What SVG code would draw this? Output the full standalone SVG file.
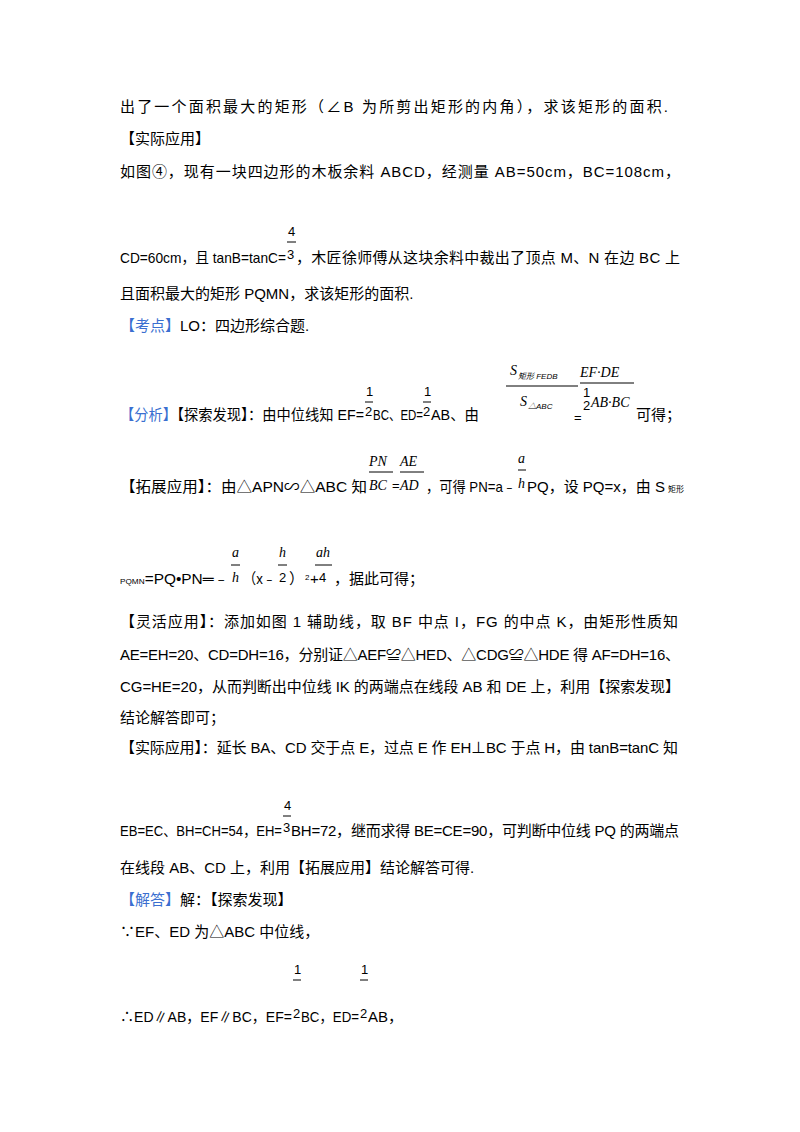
<svg xmlns="http://www.w3.org/2000/svg" width="800" height="1132" viewBox="0 0 800 1132">
<style>
text{font-family:"Liberation Sans","Noto Sans CJK SC",sans-serif;font-size:15px;fill:#000}
.b{fill:#3a6fd0}
.s{font-size:13px}
.t{font-size:8px}
.i{font-family:"Liberation Serif","Noto Sans CJK SC",serif;font-style:italic;font-size:14px}
line{stroke:#000;stroke-width:1}
</style>
<rect width="800" height="1132" fill="#fff"/>
<text x="120" y="112" textLength="548" lengthAdjust="spacing">出了一个面积最大的矩形（∠B 为所剪出矩形的内角），求该矩形的面积.</text>
<text x="120" y="144">【实际应用】</text>
<text x="120" y="177" textLength="560" lengthAdjust="spacing">如图④，现有一块四边形的木板余料 ABCD，经测量 AB=50cm，BC=108cm，</text>
<text x="288" y="236" class="s">4</text><line x1="287" y1="242" x2="296" y2="242"/>
<text x="120" y="263" textLength="166" lengthAdjust="spacingAndGlyphs">CD=60cm，且 tanB=tanC=</text><text x="287" y="259" class="s">3</text>
<text x="296" y="263" textLength="384" lengthAdjust="spacing">，木匠徐师傅从这块余料中裁出了顶点 M、N 在边 BC 上</text>
<text x="120" y="299">且面积最大的矩形 PQMN，求该矩形的面积.</text>
<text x="120" y="331"><tspan class="b">【考点】</tspan>LO：四边形综合题.</text>
<text x="120" y="420" textLength="244" lengthAdjust="spacingAndGlyphs"><tspan class="b">【分析】</tspan>【探索发现】：由中位线知 EF=</text>
<text x="366" y="396" class="s">1</text><line x1="365" y1="402" x2="373" y2="402"/>
<text x="365" y="416" class="s">2</text><text x="373" y="420" textLength="50" lengthAdjust="spacingAndGlyphs">BC、ED=</text>
<text x="424" y="396" class="s">1</text><line x1="423" y1="402" x2="431" y2="402"/>
<text x="423" y="416" class="s">2</text><text x="431" y="420" textLength="48" lengthAdjust="spacingAndGlyphs">AB、由</text>
<text x="510" y="375" class="i">S</text><text x="518" y="379" class="t" font-style="italic">矩形 FEDB</text>
<line x1="506" y1="386" x2="578" y2="386"/>
<text x="520" y="406" class="i">S</text><text x="528" y="409" class="t" font-style="italic">△ABC</text>
<text x="580" y="377" class="i" font-size="12">EF·DE</text>
<line x1="580" y1="383" x2="634" y2="383"/>
<text x="583" y="397" class="s">1</text><text x="583" y="410" class="s">2</text>
<text x="591" y="407" class="i" font-size="12">AB·BC</text>
<text x="574" y="422" class="s">=</text>
<text x="636" y="420">可得；</text>
<text x="120" y="492" textLength="247" lengthAdjust="spacingAndGlyphs">【拓展应用】：由△APN∽△ABC 知</text>
<text x="369" y="466" class="i">PN</text><line x1="369" y1="472" x2="393" y2="472"/>
<text x="369" y="490" class="i">BC</text><text x="392" y="490" class="s">=</text>
<text x="400" y="466" class="i">AE</text><line x1="400" y1="472" x2="424" y2="472"/>
<text x="400" y="490" class="i">AD</text>
<text x="426" y="492" textLength="90" lengthAdjust="spacingAndGlyphs">，可得 PN=a﹣</text>
<text x="518" y="463" class="i">a</text><line x1="518" y1="470" x2="526" y2="470"/>
<text x="518" y="488" class="i">h</text>
<text x="527" y="492" textLength="138" lengthAdjust="spacingAndGlyphs">PQ，设 PQ=x，由 S</text><text x="668" y="492" class="t">矩形</text>
<text x="120" y="584" textLength="109" lengthAdjust="spacingAndGlyphs"><tspan class="t">PQMN</tspan>=PQ•PN═﹣</text>
<text x="232" y="557" class="i">a</text><line x1="231" y1="565" x2="240" y2="565"/>
<text x="232" y="582" class="i">h</text>
<text x="243" y="584" textLength="33" lengthAdjust="spacingAndGlyphs">（x﹣</text>
<text x="279" y="557" class="i">h</text><line x1="278" y1="565" x2="287" y2="565"/>
<text x="279" y="582" class="s">2</text>
<text x="289" y="584">）</text><text x="305" y="580" class="t">2</text><text x="310" y="584">+</text>
<text x="316" y="557" class="i">ah</text><line x1="315" y1="565" x2="332" y2="565"/>
<text x="319" y="582" class="s">4</text>
<text x="334" y="584">，据此可得；</text>
<text x="120" y="627" textLength="558" lengthAdjust="spacing">【灵活应用】：添加如图 1 辅助线，取 BF 中点 I，FG 的中点 K，由矩形性质知</text>
<text x="120" y="660" textLength="560" lengthAdjust="spacing">AE=EH=20、CD=DH=16，分别证△AEF≌△HED、△CDG≌△HDE 得 AF=DH=16、</text>
<text x="120" y="692" textLength="560" lengthAdjust="spacing">CG=HE=20，从而判断出中位线 IK 的两端点在线段 AB 和 DE 上，利用【探索发现】</text>
<text x="120" y="723">结论解答即可；</text>
<text x="120" y="753" textLength="558" lengthAdjust="spacing">【实际应用】：延长 BA、CD 交于点 E，过点 E 作 EH⊥BC 于点 H，由 tanB=tanC 知</text>
<text x="284" y="810" class="s">4</text><line x1="283" y1="816" x2="291" y2="816"/>
<text x="120" y="836" textLength="162" lengthAdjust="spacingAndGlyphs">EB=EC、BH=CH=54，EH=</text><text x="283" y="832" class="s">3</text>
<text x="291" y="836" textLength="388" lengthAdjust="spacing">BH=72，继而求得 BE=CE=90，可判断中位线 PQ 的两端点</text>
<text x="120" y="873">在线段 AB、CD 上，利用【拓展应用】结论解答可得.</text>
<text x="120" y="905"><tspan class="b">【解答】</tspan>解：【探索发现】</text>
<text x="120" y="937">∵EF、ED 为△ABC 中位线，</text>
<text x="294" y="974" class="s">1</text><line x1="293" y1="980" x2="301" y2="980"/>
<text x="120" y="1022" textLength="172" lengthAdjust="spacingAndGlyphs">∴ED∥AB，EF∥BC，EF=</text><text x="293" y="1018" class="s">2</text>
<text x="301" y="1022" textLength="58" lengthAdjust="spacingAndGlyphs">BC，ED=</text>
<text x="361" y="974" class="s">1</text><line x1="360" y1="980" x2="368" y2="980"/>
<text x="360" y="1018" class="s">2</text><text x="368" y="1022">AB，</text>
</svg>
